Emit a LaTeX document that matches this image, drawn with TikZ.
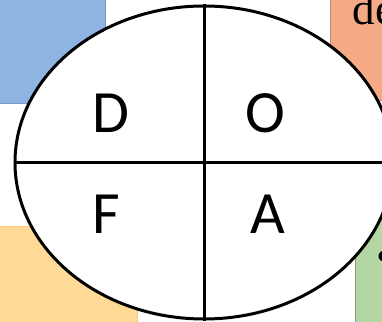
\documentclass[tikz,border=0pt]{standalone}
\usepackage{fontspec}
\newfontfamily\quadfont{Carlito}
\newfontfamily\notefont{Liberation Serif}
\usetikzlibrary{shapes.geometric}
\definecolor{dofablue}{RGB}{142,180,227}
\definecolor{dofaorange}{RGB}{245,170,134}
\definecolor{dofagold}{RGB}{255,218,150}
\definecolor{dofagreen}{RGB}{180,214,163}

\begin{document}
\begin{tikzpicture}[x=1pt, y=1pt, line width=3pt,
  panel/.style={line width=0.8pt},
  note/.style={inner sep=0pt, font=\notefont\fontsize{45}{45}\selectfont},
  quad/.style={font=\quadfont\fontsize{60}{60}\selectfont, anchor=base, inner sep=0pt}]
\useasboundingbox (0,0) rectangle (382,321);
\clip (0,0) rectangle (382,321);
% boxes behind the oval
\filldraw[panel, fill=dofablue, draw=dofablue!85!black] (-2,218) rectangle (105,323);
\filldraw[panel, fill=dofaorange, draw=dofaorange!80!black] (330,221) rectangle (390,323);
\filldraw[panel, fill=dofagold, draw=dofagold!80!orange] (-2,95) rectangle (137,-2);
\filldraw[panel, fill=dofagreen, draw=dofagreen!75!black] (355,130) rectangle (390,-2);
\node[note, anchor=base west] (de) at (351,296) {de};
\node[note] (dot) at (384,60) {•};
% the oval
\node[ellipse, draw, fill=white, inner sep=0pt, minimum width=378pt, minimum height=313pt] (oval) at (204,158.5) {};
\draw (oval.north) -- (oval.south);
\draw (oval.west) -- (oval.east);
\node[quad] (d) at (111,188) {D};
\node[quad] (o) at (265,188) {O};
\node[quad] (f) at (106,88) {F};
\node[quad] (a) at (268,88) {A};
\end{tikzpicture}
\end{document}
